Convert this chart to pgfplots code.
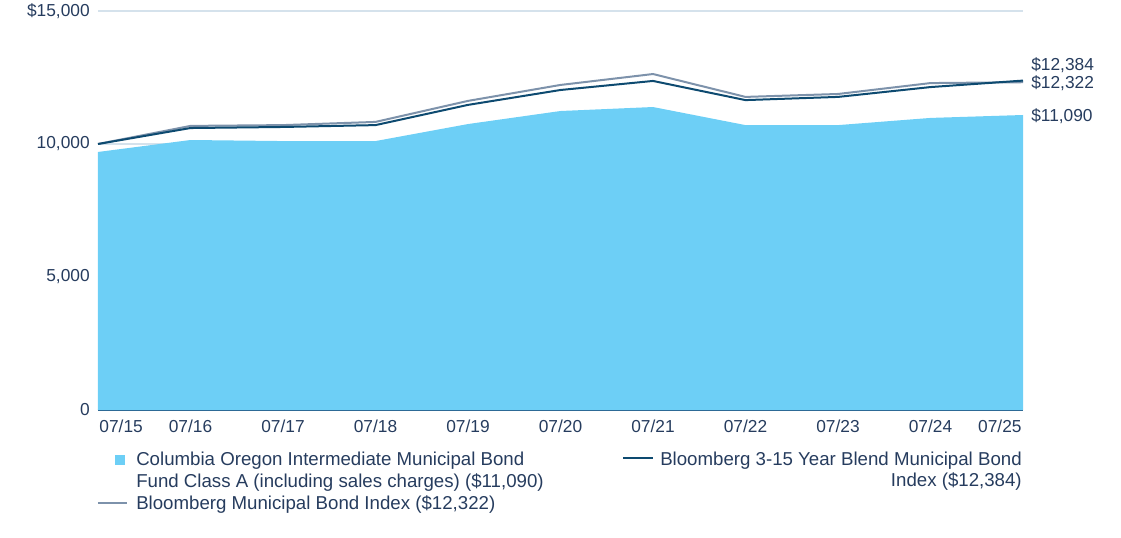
\documentclass[border=0pt]{standalone}
\usepackage{pgfplots}
\pgfplotsset{compat=1.18}
\usepackage{fontspec}
\setmainfont{Liberation Sans}
\definecolor{fundc}{HTML}{6DCFF6}
\definecolor{blendc}{HTML}{0D4A70}
\definecolor{munic}{HTML}{7D92AB}
\definecolor{textc}{HTML}{263C5E}
\definecolor{gridc}{HTML}{D5E2EC}
\definecolor{axisc}{HTML}{2D6A96}
\begin{document}
\begin{tikzpicture}[font=\fontsize{13}{16}\selectfont]
\begin{axis}[
  scale only axis, width=693.75pt, height=299.25pt,
  xmin=0, xmax=10, ymin=0, ymax=15000,
  axis lines=left,
  axis line style={-},
  y axis line style={draw=none},
  x axis line style={draw=axisc, line width=1.5pt},
  major tick length=0pt,
  ymajorgrids, grid style={gridc, line width=1pt},
  ytick={0,5000,10000,15000},
  yticklabels={0,{5,000},{10,000},{\$15,000}},
  xtick={0.25,1,2,3,4,5,6,7,8,9,9.75},
  xticklabels={07/15,07/16,07/17,07/18,07/19,07/20,07/21,07/22,07/23,07/24,07/25},
  tick label style={font=\fontsize{13}{16}\selectfont, text=textc},
  yticklabel style={anchor=east, inner sep=0pt, xshift=-6pt},
  xticklabel style={anchor=base, inner sep=0pt, yshift=-17.25pt},
  clip=false,
]
\addplot[fill=fundc, draw=none] coordinates {
 (0,9700) (1,10150) (2,10110) (3,10110) (4,10750) (5,11240) (6,11390) (7,10710) (8,10710) (9,10980) (10,11090)
} \closedcycle;
\addplot[munic, line width=1.5pt] coordinates {
 (0,10000) (1,10680) (2,10710) (3,10830) (4,11620) (5,12220) (6,12630) (7,11770) (8,11880) (9,12290) (10,12322)
};
\addplot[blendc, line width=1.5pt] coordinates {
 (0,10000) (1,10600) (2,10640) (3,10710) (4,11470) (5,12030) (6,12370) (7,11650) (8,11770) (9,12140) (10,12384)
};
\coordinate (O) at (rel axis cs:0,0);
\end{axis}
\begin{scope}[shift={(O)}, x=0.75pt, y=-0.75pt, every node/.style={inner sep=0pt, text=textc}]
  % right value labels
  \node[anchor=base west] at (933,-339.2) {\$12,384};
  \node[anchor=base west] at (933,-321.2) {\$12,322};
  \node[anchor=base west] at (933,-288.5) {\$11,090};
  % legend
  \begin{scope}[every node/.append style={font=\fontsize{14}{17}\selectfont}]
  \fill[fundc] (17,45) rectangle (27,55);
  \node[anchor=base west] at (38,56) {Columbia Oregon Intermediate Municipal Bond};
  \node[anchor=base west] at (38,77.5) {Fund Class A (including sales charges) (\$11,090)};
  \draw[munic, line width=1.5pt] (0,93) -- (29,93);
  \node[anchor=base west] at (38,99.5) {Bloomberg Municipal Bond Index (\$12,322)};
  \draw[blendc, line width=1.5pt] (525,48) -- (555,48);
  \node[anchor=base east] at (924,55.5) {Bloomberg 3-15 Year Blend Municipal Bond};
  \node[anchor=base east] at (924,77) {Index (\$12,384)};
  \end{scope}
  \pgfresetboundingbox
  \useasboundingbox (-98,-410) rectangle (1023,128);
\end{scope}
\end{tikzpicture}
\end{document}
